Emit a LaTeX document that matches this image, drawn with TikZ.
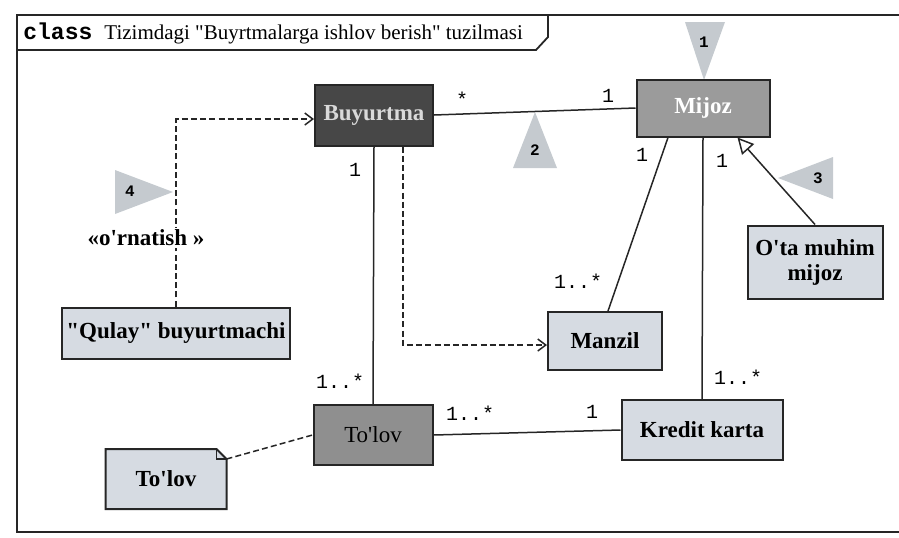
\documentclass[tikz,border=0pt]{standalone}
\usepackage{fontspec}
\setmainfont{Liberation Serif}[Ligatures=TeXOff]
\setmonofont{Liberation Mono}
\usetikzlibrary{arrows.meta,backgrounds}

\definecolor{boxdark}{HTML}{474747}
\definecolor{boxmid}{HTML}{9B9B9B}
\definecolor{boxpay}{HTML}{8F8F8F}
\definecolor{boxlight}{HTML}{D6DBE2}
\definecolor{trigray}{HTML}{C5CACF}
\definecolor{linegray}{HTML}{262626}

\tikzset{
  cls/.style={draw=linegray, line width=1pt, inner sep=2pt,
    font=\fontsize{11.5}{12.5}\selectfont\bfseries},
  lightcls/.style={cls, fill=boxlight},
  assoc/.style={draw=linegray, line width=0.75pt},
  dep/.style={assoc, dash pattern=on 3pt off 1.6pt,
    -{Straight Barb[length=4pt,width=6pt]}},
  mult/.style={font=\ttfamily\fontsize{10}{12}\selectfont, inner sep=1pt},
  trinum/.style={font=\ttfamily\bfseries\fontsize{8}{9}\selectfont, inner sep=0pt},
}

\begin{document}
\begin{tikzpicture}[x=0.5pt, y=-0.5pt]
  \useasboundingbox (0,0) rectangle (899,537);

  % diagram frame with its name tab
  \draw[linegray, line width=0.9pt] (905,15) -- (17,15) -- (17,532) -- (905,532);
  \draw[linegray, line width=0.9pt] (17,50) -- (536,50) -- (548,37) -- (548,15);
  \node[anchor=west, inner sep=0pt] (title) at (23,33)
    {{\ttfamily\bfseries\fontsize{11.5}{13}\selectfont class}\hspace{6pt}%
     \fontsize{10.5}{12}\selectfont Tizimdagi "Buyrtmalarga ishlov berish" tuzilmasi};

  % numbered markers
  \fill[trigray] (685,22) -- (725,22) -- (704,80) -- cycle;
  \fill[trigray] (535,112) -- (557,168) -- (513,168) -- cycle;
  \fill[trigray] (778,178) -- (833,157) -- (833,199) -- cycle;
  \fill[trigray] (173,192) -- (115,170) -- (115,214) -- cycle;
  \node[trinum] (m1) at (704,42) {1};
  \node[trinum] (m2) at (535,150) {2};
  \node[trinum] (m3) at (818,178) {3};
  \node[trinum] (m4) at (130,191) {4};

  % classes
  \node[cls, fill=boxdark, text=white!85!black, minimum width=59pt, minimum height=30.5pt]
    (buyurtma) at (374,115) {Buyurtma};
  \node[cls, fill=boxmid, text=white, minimum width=66.5pt, minimum height=28.5pt]
    (mijoz) at (703,108) {Mijoz};
  \node[lightcls, minimum width=67.5pt, minimum height=36.5pt, align=center]
    (otamuhim) at (815,262) {O'ta muhim\\mijoz};
  \node[lightcls, minimum width=57pt, minimum height=29pt] (manzil) at (605,341) {Manzil};
  \node[lightcls, minimum width=111pt, minimum height=25.5pt]
    (qulay) at (176,333) {"Qulay" buyurtmachi};
  \node[cls, fill=boxpay, font=\fontsize{11.5}{12.5}\selectfont, minimum width=59.5pt,
    minimum height=30pt] (tolov) at (373,435) {To'lov};
  \node[lightcls, minimum width=80.5pt, minimum height=30pt] (kredit) at (702,430) {Kredit karta};

  % note with folded corner
  \node[cls, draw=none, minimum width=59.5pt, minimum height=29pt] (note) at (166,479) {To'lov};
  \begin{pgfonlayer}{background}
    \draw[linegray, line width=1pt, fill=boxlight]
      (note.south west) -- (note.north west) -- ([xshift=-5pt]note.north east)
      -- ([yshift=-5pt]note.north east) -- (note.south east) -- cycle;
  \end{pgfonlayer}
  \draw[linegray, line width=0.7pt] ([xshift=-5pt]note.north east)
    -- ([xshift=-5pt,yshift=-5pt]note.north east) -- ([yshift=-5pt]note.north east);

  % associations
  \draw[assoc] (buyurtma.east) -- (mijoz.west);
  \draw[assoc] ([xshift=-17.5pt]mijoz.south) -- ([xshift=1.5pt]manzil.north);
  \draw[assoc] (mijoz.south) -- (kredit.north);
  \draw[assoc] (buyurtma.south) -- (tolov.north);
  \draw[assoc] (tolov.east) -- (kredit.west);
  \draw[assoc, -{Triangle[open, length=8pt, width=8pt]}]
    (otamuhim.north) -- ([xshift=-16.5pt]mijoz.south east);

  % dependencies
  \draw[dep] (qulay.north) |- ([yshift=-2pt]buyurtma.west);
  \draw[dep] ([xshift=14.5pt]buyurtma.south) |- ([yshift=-2pt]manzil.west);
  \draw[assoc, dash pattern=on 3pt off 1.6pt] ([yshift=-5pt]note.north east) -- (tolov.west);
  \node[fill=white, inner sep=1pt, font=\fontsize{11.5}{12.5}\selectfont\bfseries]
    (ornatish) at (146,238) {«o'rnatish »};

  % multiplicities
  \node[mult] (mBM) at (462,99) {*};
  \node[mult] (mMB) at (608,96) {1};
  \node[mult] (mBT) at (355,170) {1};
  \node[mult] (mTB) at (340,381) {1..*};
  \node[mult] (mMZ) at (642,155) {1};
  \node[mult] (mZM) at (578,281) {1..*};
  \node[mult] (mMK) at (722,161) {1};
  \node[mult] (mKM) at (738,377) {1..*};
  \node[mult] (mTK) at (470,413) {1..*};
  \node[mult] (mKT) at (592,412) {1};
\end{tikzpicture}
\end{document}
